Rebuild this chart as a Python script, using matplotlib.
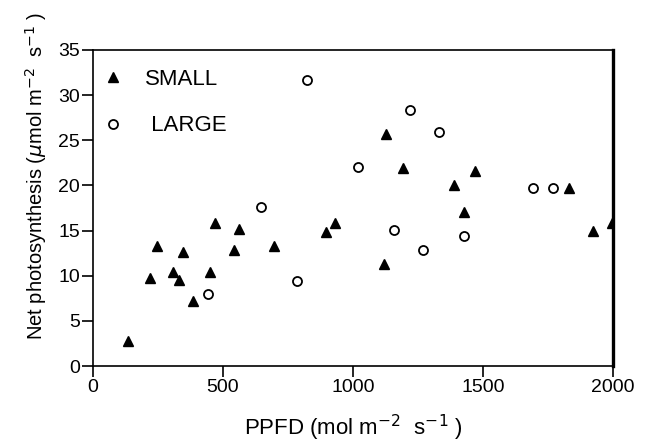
import matplotlib
matplotlib.use('Agg')
import matplotlib.pyplot as plt

# SMALL plants (filled triangles)
small_ppfd = [135, 219, 245, 306, 332, 345, 383, 451, 468, 541, 563, 698, 895, 931,
              1127, 1191, 1469, 1390, 1427, 1120, 1830, 1924, 1995]
small_pn = [2.8, 9.7, 13.3, 10.4, 9.5, 12.6, 7.2, 10.4, 15.8, 12.8, 15.2, 13.3, 14.8, 15.8,
            25.7, 21.9, 21.6, 20.0, 17.0, 11.3, 19.7, 14.9, 15.8]

# LARGE plants (open circles)
large_ppfd = [822, 1018, 647, 783, 442, 1220, 1332, 1159, 1270, 1427, 1691, 1768]
large_pn = [31.7, 22.0, 17.6, 9.4, 8.0, 28.3, 25.9, 15.1, 12.8, 14.4, 19.7, 19.7]

x_ticks = [0, 500, 1000, 1500, 2000]
y_ticks = [0, 5, 10, 15, 20, 25, 30, 35]

plt.rcParams['font.family'] = ['Liberation Sans', 'DejaVu Sans']

fig = plt.figure(figsize=(6.5, 4.45), dpi=100)
ax = fig.add_axes([0.143, 0.1775, 0.8, 0.7105])

ax.plot(small_ppfd, small_pn, linestyle='none', marker='^', color='black',
        markersize=7, label='SMALL')
ax.plot(large_ppfd, large_pn, linestyle='none', marker='o', markerfacecolor='white',
        markeredgecolor='black', markeredgewidth=1.3, markersize=6.5, label=' LARGE')

ax.set_xlim(0, 2000)
ax.set_ylim(0, 35)
ax.set_xticks(x_ticks)
ax.set_yticks(y_ticks)
ax.tick_params(direction='out', length=8, width=1.2, labelsize=14, pad=1.5)

for side in ['left', 'bottom', 'top']:
    ax.spines[side].set_linewidth(1.2)
ax.spines['right'].set_linewidth(2.4)

ax.set_xlabel('PPFD (mol m$^{-2}$  s$^{-1}$ )', fontsize=16, labelpad=12)
ax.set_ylabel('Net photosynthesis ($\\mu$mol m$^{-2}$  s$^{-1}$ )', fontsize=14.5)
ax.yaxis.set_label_coords(-0.085, 0.6)

leg = ax.legend(loc='upper left', bbox_to_anchor=(0.017, 0.94), frameon=False,
                fontsize=16, handletextpad=0.95, labelspacing=1.15,
                borderaxespad=0, borderpad=0, handlelength=1.0)

fig.savefig('out.png', dpi=100)
